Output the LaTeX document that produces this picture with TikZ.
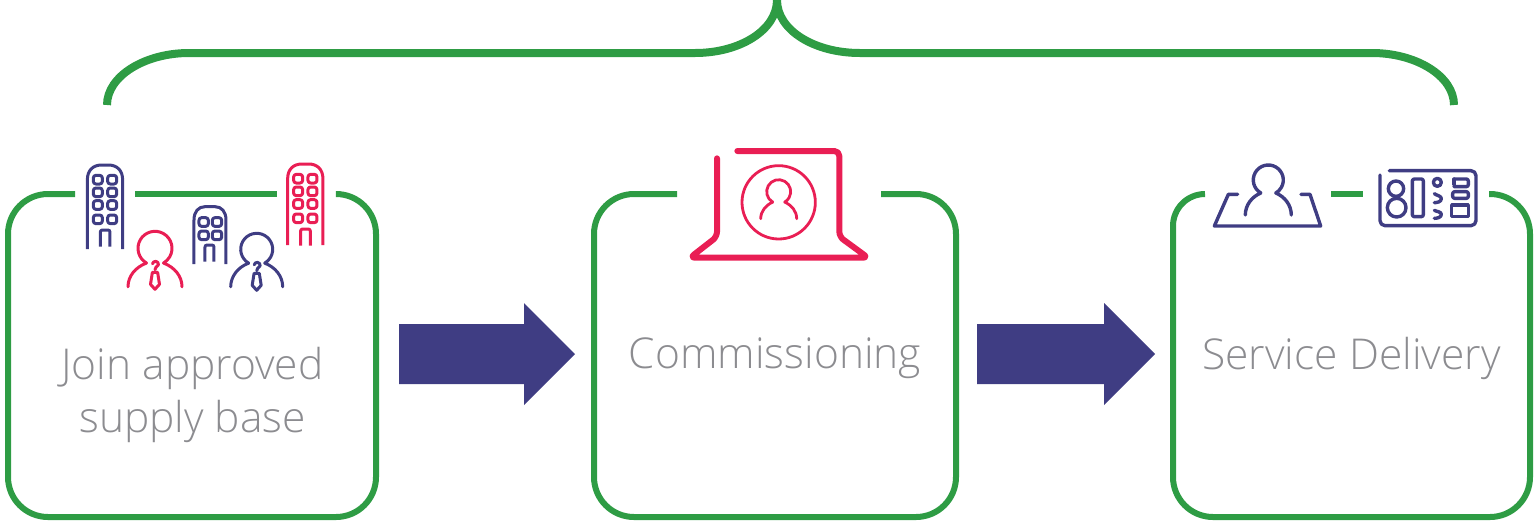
\documentclass[tikz,border=0pt]{standalone}
\usepackage{fontspec}
\setmainfont{Open Sans}[UprightFont=* Light]
\definecolor{navy}{HTML}{3F3D83}
\definecolor{rosso}{HTML}{E91E54}
\definecolor{verde}{HTML}{2E9C44}
\definecolor{grigio}{HTML}{8C8C90}
\tikzset{
  framebox/.style={draw=verde,line width=6pt,line cap=butt},
  bracket/.style={draw=verde,line width=8pt,line cap=butt},
  blockarrow/.style={fill=navy,draw=none},
  caption/.style={text=grigio,font=\fontsize{42.5}{53}\selectfont,align=center,inner sep=0pt},
  icon/.style={line width=3pt,line cap=round,line join=round},
}
\newcommand{\personicon}[7]{%
  \begin{scope}[shift={(#1,#2)},x=1pt,y=1pt,icon,draw=#5,line width=#7]
    \draw (-120:#3 pt) arc[start angle=-120,delta angle=-300,radius=#3 pt]
      .. controls (#4*0.72,-#3*1.05-1) and (#4,-#6*0.72) .. (#4,-#6);
    \draw (-120:#3 pt) .. controls (-#4*0.72,-#3*1.05-1) and (-#4,-#6*0.72) .. (-#4,-#6);
  \end{scope}}
\newcommand{\tieicon}[3]{%
  \begin{scope}[shift={(#1,#2)},x=1pt,y=1pt,icon,draw=#3]
    \draw (-2.5,-15.5) arc[start angle=170,delta angle=-250,radius=3pt] -- (0,-21.5);
    \draw (-2.6,-24) -- (2.6,-24) -- (4.5,-36) -- (0,-41) -- (-4.5,-36) -- cycle;
  \end{scope}}
\newcommand{\winicon}[3]{\draw[rounded corners=2.6pt] (#1,#2) rectangle ++(#3,26);}
\newcommand{\towericon}[4]{%
  \begin{scope}[shift={(#1,#2)},x=0.33333pt,y=-0.33333pt,icon,draw=#3,line cap=butt]
    \draw (262,#4) -- (262,90) .. controls (262,60) and (280,45) .. (305,45) -- (325,45) .. controls (350,45) and (368,60) .. (368,90) -- (368,#4);
    \foreach \yy in {76,114,152,195}{\winicon{280}{\yy}{27}\winicon{323}{\yy}{27}}
    \draw[rounded corners=2pt] (301,290) -- (301,240) -- (330,240) -- (330,290);
  \end{scope}}
\begin{document}
\begin{tikzpicture}[x=1pt,y=-1pt]
\useasboundingbox (0,0) rectangle (1537,523);
% bracket
\draw[bracket] (107,105) .. controls (107,76) and (145,53) .. (189,53) -- (695,53) .. controls (740,53) and (777,30) .. (777,0);
\draw[bracket] (1454,105) .. controls (1454,76) and (1416,53) .. (1372,53) -- (860,53) .. controls (814,53) and (777,30) .. (777,0);
% frames
\draw[framebox] (75,194) -- (48,194) arc[start angle=90,delta angle=90,radius=40pt] -- (8,477) arc[start angle=180,delta angle=90,radius=40pt] -- (336,517) arc[start angle=270,delta angle=90,radius=40pt] -- (376,234) arc[start angle=0,delta angle=90,radius=40pt] -- (337,194);
\draw[framebox] (135,194) -- (277,194);
\draw[framebox] (677,194) -- (634,194) arc[start angle=90,delta angle=90,radius=40pt] -- (594,477) arc[start angle=180,delta angle=90,radius=40pt] -- (916,517) arc[start angle=270,delta angle=90,radius=40pt] -- (956,234) arc[start angle=0,delta angle=90,radius=40pt] -- (881,194);
\draw[framebox] (1205,194) arc[start angle=90,delta angle=90,radius=32pt] -- (1173,477) arc[start angle=180,delta angle=90,radius=40pt] -- (1490,517) arc[start angle=270,delta angle=90,radius=40pt] -- (1530,234) arc[start angle=0,delta angle=90,radius=40pt] -- (1489,194);
\draw[framebox] (1331,194) -- (1363,194);
% arrows
\fill[blockarrow] (399,324) -- (524,324) -- (524,303) -- (575,354) -- (524,405) -- (524,384) -- (399,384) -- cycle;
\fill[blockarrow] (977,324) -- (1104,324) -- (1104,303) -- (1155,354) -- (1104,405) -- (1104,384) -- (977,384) -- cycle;
% captions
\node[caption] (joinlabel) at (192.5,394.5) {Join approved\\supply base};
\node[caption] (commlabel) at (775,358.5) {Commissioning};
\node[caption] (servlabel) at (1351.5,358.5) {Service Delivery};
% icons box 1
\towericon{0}{150}{navy}{297}
\towericon{200.3}{149}{rosso}{288}
\begin{scope}[shift={(0,150)},x=0.33333pt,y=-0.33333pt,icon,draw=navy,line cap=butt]
  \draw (582,342) -- (582,210) .. controls (582,185) and (595,170) .. (615,170) -- (645,170) .. controls (665,170) and (678,185) .. (678,210) -- (678,342);
  \winicon{597}{203}{28}\winicon{637}{203}{28}
  \winicon{597}{243}{28}\winicon{637}{243}{28}
  \draw[rounded corners=2pt] (615,335) -- (615,285) -- (642,285) -- (642,335);
\end{scope}
\personicon{155}{248.3}{17}{27}{rosso}{38.5}{3pt}
\tieicon{155}{248.3}{rosso}
\personicon{256.7}{249.3}{16}{26}{navy}{37.5}{3pt}
\tieicon{256.7}{249.3}{navy}
% laptop
\begin{scope}[shift={(660,140)},x=0.33333pt,y=-0.33333pt,icon,draw=rosso]
  \draw[line width=6pt,rounded corners=5pt] (171,55) -- (171,290) -- (90,353) -- (624,353) -- (538,290) -- (538,33) -- (232,33);
  \draw[line width=2.8pt] (356,187) ellipse[x radius=110,y radius=110];
\end{scope}
\personicon{778.7}{191.7}{12}{18}{rosso}{27}{2.8pt}
% desk person
\begin{scope}[shift={(1200,155)},x=0.33333pt,y=-0.33333pt,icon,draw=navy]
  \draw[line width=3.4pt] (113,118) -- (85,118) -- (43,213) -- (362,213) -- (330,118) -- (303,118);
\end{scope}
\personicon{1268.3}{180}{15}{23}{navy}{35}{3.4pt}
% control panel
\begin{scope}[shift={(1200,155)},x=0.33333pt,y=-0.33333pt,icon,draw=navy,line width=3.4pt]
  \draw[rounded corners=5pt] (568,47) -- (828,47) -- (828,212) -- (540,212) -- (540,60);
  \draw (588,101) ellipse[x radius=23,y radius=23];
  \draw (590,158) ellipse[x radius=28,y radius=28];
  \draw[rounded corners=2pt] (637,72) rectangle (670,185);
  \draw (712,82) ellipse[x radius=12,y radius=12];
  \draw (703,116) .. controls (710,122) and (724,122) .. (724,131) .. controls (724,141) and (710,143) .. (703,143);
  \draw (703,166) .. controls (710,170) and (724,170) .. (724,178) .. controls (724,188) and (710,190) .. (703,190);
  \draw[rounded corners=2pt] (762,72) -- (805,72) -- (805,95) -- (762,95);
  \draw[rounded corners=2pt] (762,88) -- (762,72);
  \draw[rounded corners=2pt] (758,110) rectangle (805,130);
  \draw (755,185) -- (755,150) -- (805,150) -- (805,185) -- cycle;
\end{scope}
\end{tikzpicture}
\end{document}
